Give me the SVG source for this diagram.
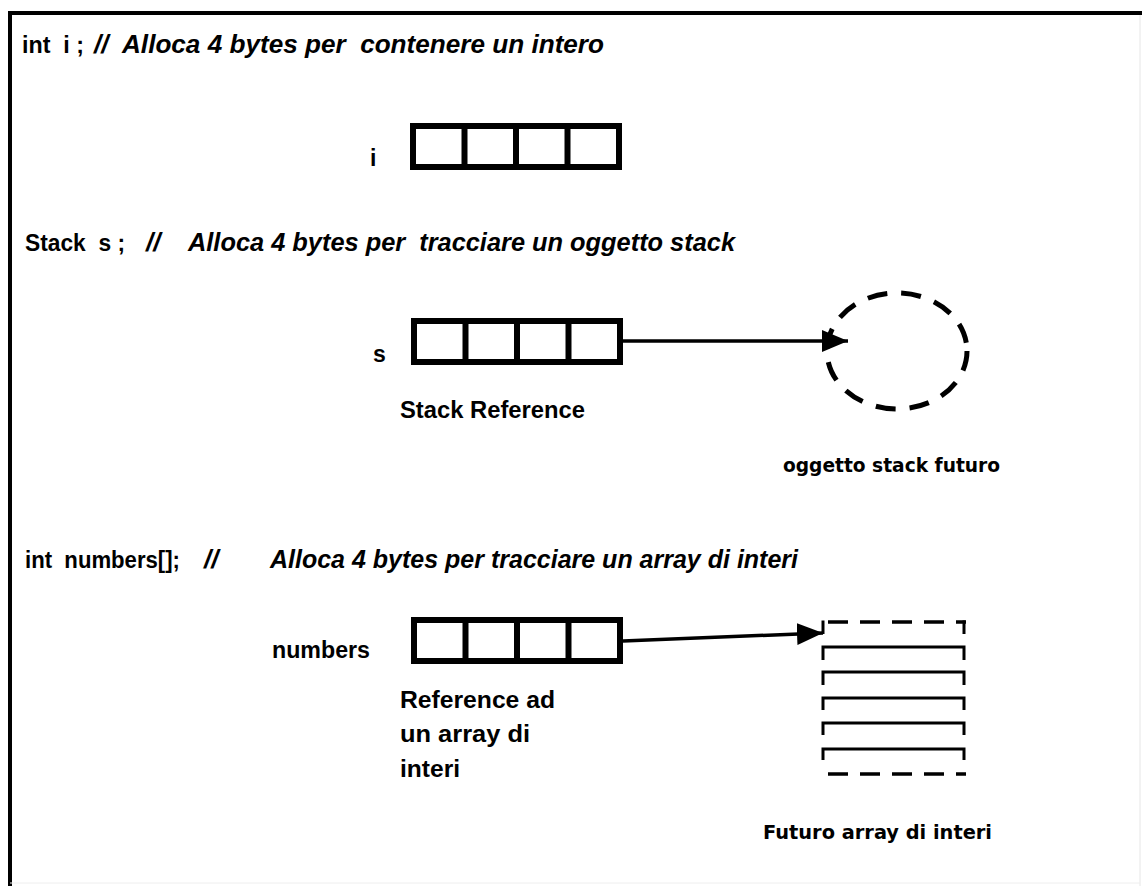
<svg xmlns="http://www.w3.org/2000/svg" width="1142" height="886" viewBox="0 0 1142 886" xml:space="preserve">
  <style>
    text { white-space: pre; }
    .code { font-family: "Liberation Sans", Arial, sans-serif; font-weight: bold; font-size: 23px; fill: #000; }
    .cmt { font-family: "Liberation Sans", Arial, sans-serif; font-style: italic; font-weight: bold; font-size: 26px; fill: #000; }
    .ref { font-family: "Liberation Sans", Arial, sans-serif; font-weight: bold; font-size: 23px; fill: #000; }
    .lbl { font-family: "DejaVu Sans", Verdana, sans-serif; font-weight: bold; font-size: 20px; fill: #000; }
    .cell { fill: #fff; stroke: #000; stroke-width: 6; }
    .div { stroke: #000; stroke-width: 6; }
    .link { stroke: #000; stroke-width: 3.5; fill: none; }
    .slot { stroke: #000; stroke-width: 3; fill: none; }
    .dash { stroke: #000; stroke-width: 3.5; fill: none; stroke-dasharray: 20 12; }
  </style>
  <defs>
    <marker id="arrow" markerWidth="26" markerHeight="22" refX="26" refY="11" orient="auto" markerUnits="userSpaceOnUse" viewBox="0 0 26 22">
      <path d="M0,0 L26,11 L0,22 z" fill="#000"/>
    </marker>
    <!-- four-byte memory word -->
    <g id="word">
      <rect class="cell" x="0" y="0" width="206" height="41"/>
      <line class="div" x1="51.5" y1="0" x2="51.5" y2="41"/>
      <line class="div" x1="103" y1="0" x2="103" y2="41"/>
      <line class="div" x1="154.5" y1="0" x2="154.5" y2="41"/>
    </g>
  </defs>

  <rect x="0" y="0" width="1142" height="886" fill="#fff"/>

  <!-- frame -->
  <g id="frame">
    <line x1="10" y1="13" x2="1142" y2="13" stroke="#000" stroke-width="4"/>
    <line x1="10" y1="11" x2="10" y2="886" stroke="#000" stroke-width="4"/>
    <line x1="1140" y1="15" x2="1140" y2="886" stroke="#e6e6e6" stroke-width="1"/>
    <line x1="10" y1="883" x2="1140" y2="883" stroke="#eeeeee" stroke-width="1"/>
  </g>

  <!-- declaration: int i -->
  <g id="decl-int">
    <text class="code" x="22" y="53" textLength="62" lengthAdjust="spacingAndGlyphs">int  i ;</text>
    <text class="cmt" x="94" y="53">//</text>
    <text class="cmt" x="122" y="53" textLength="482" lengthAdjust="spacingAndGlyphs">Alloca 4 bytes per  contenere un intero</text>
  </g>
  <g id="var-i">
    <text class="code" x="370" y="166">i</text>
    <use href="#word" x="413" y="126"/>
  </g>

  <!-- declaration: Stack s -->
  <g id="decl-stack">
    <text class="code" x="25" y="251" textLength="100" lengthAdjust="spacingAndGlyphs">Stack  s ;</text>
    <text class="cmt" x="146" y="251">//</text>
    <text class="cmt" x="188" y="251" textLength="547" lengthAdjust="spacingAndGlyphs">Alloca 4 bytes per  tracciare un oggetto stack</text>
  </g>
  <g id="var-s">
    <text class="code" x="373" y="362">s</text>
    <use href="#word" x="414" y="321"/>
    <text class="ref" x="400" y="418" textLength="185" lengthAdjust="spacingAndGlyphs">Stack Reference</text>
  </g>
  <g id="stack-object">
    <ellipse cx="897" cy="351" rx="70" ry="58" fill="none" stroke="#000" stroke-width="5" stroke-dasharray="20 14"/>
    <text class="lbl" x="783" y="472" textLength="217" lengthAdjust="spacingAndGlyphs">oggetto stack futuro</text>
  </g>

  <!-- declaration: int numbers[] -->
  <g id="decl-array">
    <text class="code" x="25" y="568" textLength="155" lengthAdjust="spacingAndGlyphs">int  numbers[];</text>
    <text class="cmt" x="204" y="568">//</text>
    <text class="cmt" x="270" y="568" textLength="528" lengthAdjust="spacingAndGlyphs">Alloca 4 bytes per tracciare un array di interi</text>
  </g>
  <g id="var-numbers">
    <text class="code" x="272" y="658" textLength="98" lengthAdjust="spacingAndGlyphs">numbers</text>
    <use href="#word" x="414" y="620"/>
    <text class="ref" x="400" y="708" textLength="155" lengthAdjust="spacingAndGlyphs">Reference ad</text>
    <text class="ref" x="400" y="742" textLength="130" lengthAdjust="spacingAndGlyphs">un array di</text>
    <text class="ref" x="400" y="777" textLength="60" lengthAdjust="spacingAndGlyphs">interi</text>
  </g>
  <g id="int-array">
    <line class="dash" x1="828" y1="622" x2="966" y2="622"/>
    <line class="slot" x1="823" y1="620.5" x2="823" y2="634"/>
    <line class="slot" x1="964" y1="620.5" x2="964" y2="634"/>
    <path class="slot" d="M823,660 V647 H964 V660"/>
    <path class="slot" d="M823,685 V672 H964 V685"/>
    <path class="slot" d="M823,710 V698 H964 V710"/>
    <path class="slot" d="M823,735 V723 H964 V735"/>
    <path class="slot" d="M823,760 V749 H964 V760"/>
    <line class="dash" x1="828" y1="774" x2="966" y2="774"/>
    <text class="lbl" x="763" y="839" textLength="229" lengthAdjust="spacingAndGlyphs">Futuro array di interi</text>
  </g>

  <!-- references -->
  <g id="connectors">
    <line class="link" x1="623" y1="341" x2="848" y2="341" marker-end="url(#arrow)"/>
    <line class="link" x1="623" y1="641" x2="823" y2="633" marker-end="url(#arrow)"/>
  </g>
</svg>
